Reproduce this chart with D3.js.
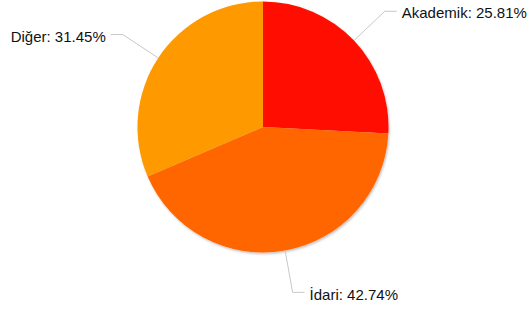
<!DOCTYPE html>
<html><head><meta charset="utf-8">
<script src="https://cdn.jsdelivr.net/npm/d3@7"></script>
<style>body{margin:0;background:#fff}svg{display:block}</style>
</head><body>
<svg id="c" width="531" height="311"></svg>
<script>
const categories = ["Akademik", "İdari", "Diğer"];
const values = [25.81, 42.74, 31.45];
const colors = ["#FF1100", "#FF6600", "#FF9900"];

const W = 531, H = 311;
const cx = 263, cy = 127, R = 125.5, labelR = 168, hLen = 12, gap = 5;
const svg = d3.select("#c");
const defs = svg.append("defs");
const f = defs.append("filter").attr("id","sh").attr("x","-10%").attr("y","-10%").attr("width","120%").attr("height","120%");
f.append("feDropShadow").attr("dx",1).attr("dy",1.5).attr("stdDeviation",1.2).attr("flood-color","#000").attr("flood-opacity",0.25);

const data = categories.map((c,i)=>({name:c, value:values[i], color:colors[i]}));
const pie = d3.pie().value(d=>d.value).sort(null);
const arcs = pie(data);
const arc = d3.arc().innerRadius(0).outerRadius(R);
const g = svg.append("g").attr("transform",`translate(${cx},${cy})`);

g.append("g").attr("filter","url(#sh)").selectAll("path").data(arcs).join("path")
  .attr("d",arc).attr("fill",d=>d.data.color);

const fmt = d3.format(".2f");
arcs.forEach(a=>{
  const m = (a.startAngle+a.endAngle)/2;
  const s = Math.sin(m), c = Math.cos(m);
  const p0 = [R*s, -R*c];
  const p1 = [labelR*s, -labelR*c];
  const dir = s >= 0 ? 1 : -1;
  const p2 = [p1[0] + dir*hLen, p1[1]];
  g.append("path").attr("d", d3.line()([p0,p1,p2]))
    .attr("fill","none").attr("stroke","#c8c8c8").attr("stroke-width",1);
  g.append("text").attr("x", p2[0] + dir*gap).attr("y", p1[1])
    .attr("dy","0.48em")
    .attr("text-anchor", dir>0 ? "start" : "end")
    .attr("font-family","Liberation Sans, Arial, Helvetica, sans-serif")
    .attr("font-size","15px").attr("fill","#111")
    .text(`${a.data.name}: ${fmt(a.data.value)}%`);
});
</script>
</body></html>
